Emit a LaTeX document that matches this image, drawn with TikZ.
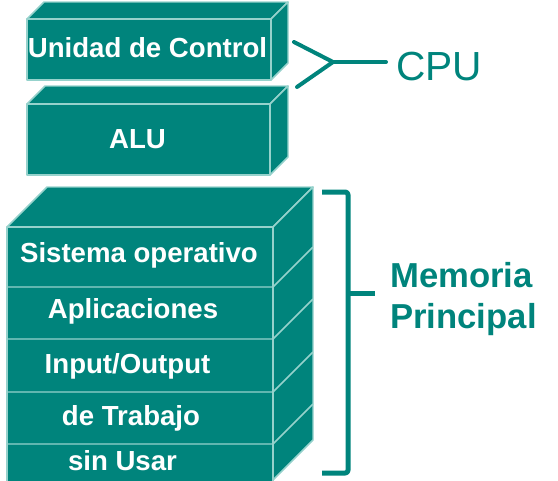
\documentclass[tikz,border=0pt]{standalone}
\usepackage{fontspec}
\setmainfont{Liberation Sans}
\definecolor{teal0}{RGB}{0,132,124}
\definecolor{edge0}{RGB}{150,210,204}
\begin{document}
\begin{tikzpicture}[x=0.75pt,y=-0.75pt,
  face/.style={fill=teal0,draw=edge0,line width=1.1pt,line join=round},
  boxtext/.style={text=white,font=\bfseries\fontsize{20.7}{24}\selectfont,anchor=base,inner sep=0pt},
  lbl/.style={text=teal0,font=\bfseries\fontsize{26}{30}\selectfont,anchor=base west,inner sep=0pt},
  conn/.style={draw=teal0,line width=3pt,line cap=round,line join=round}]
\useasboundingbox (0,0) rectangle (558,480);
\clip (0,0) rectangle (558,480);
% Unidad de Control box
\path[face] (27,19) -- (44,2) -- (288,2) -- (271,19) -- cycle;
\path[face] (271,19) -- (288,2) -- (288,63) -- (271,80) -- cycle;
\path[face] (27,19) rectangle (271,80);
% ALU box
\path[face] (27,104) -- (45,86) -- (288,86) -- (270,104) -- cycle;
\path[face] (270,104) -- (288,86) -- (288,157) -- (270,175) -- cycle;
\path[face] (27,104) rectangle (270,175);
% Memory stack
\path[face] (7,227) -- (47,187) -- (313,187) -- (273,227) -- cycle;
\path[face] (273,227) -- (313,187) -- (313,440) -- (273,480) -- cycle;
\path[face] (7,227) rectangle (273,484);
\foreach \y in {287,339,392,444}{
  \draw[edge0,line width=1.1pt] (7,\y) -- (273,\y) -- (313,\y-40);
}
% texts
\node[boxtext] (uc) at (147.5,57) {Unidad de Control};
\node[boxtext] (alu) at (137.5,148) {ALU};
\node[boxtext] (so) at (139,262) {Sistema operativo};
\node[boxtext] (ap) at (133,318) {Aplicaciones};
\node[boxtext] (io) at (127.5,373) {Input/Output};
\node[boxtext] (tr) at (131,425) {de Trabajo};
\node[boxtext] (su) at (122.5,470) {sin Usar};
% CPU connector
\node[lbl,font=\fontsize{30.5}{34}\selectfont] (cpu) at (396,80) {CPU};
\coordinate (c1) at (294,42);
\coordinate (c2) at (297,87);
\coordinate (cj) at (333,62);
\coordinate (ce) at (386,62);
\draw[conn] (c1) -- (cj) -- (c2);
\draw[conn] (cj) -- (ce);
% Memory bracket
\node[lbl] (mem) at (390,287) {Memoria};
\node[lbl] (pri) at (390,328) {Principal};
\coordinate (b1) at (322,192);
\coordinate (b2) at (348,192);
\coordinate (b3) at (348,473);
\coordinate (b4) at (322,473);
\coordinate (bm) at (348,293);
\coordinate (bt) at (375,293);
\draw[conn,line width=3.75pt,line cap=butt,rounded corners=2pt] (b1) -- (b2) -- (b3) -- (b4);
\draw[conn,line width=3.75pt,line cap=butt] (bm) -- (bt);
\end{tikzpicture}
\end{document}
